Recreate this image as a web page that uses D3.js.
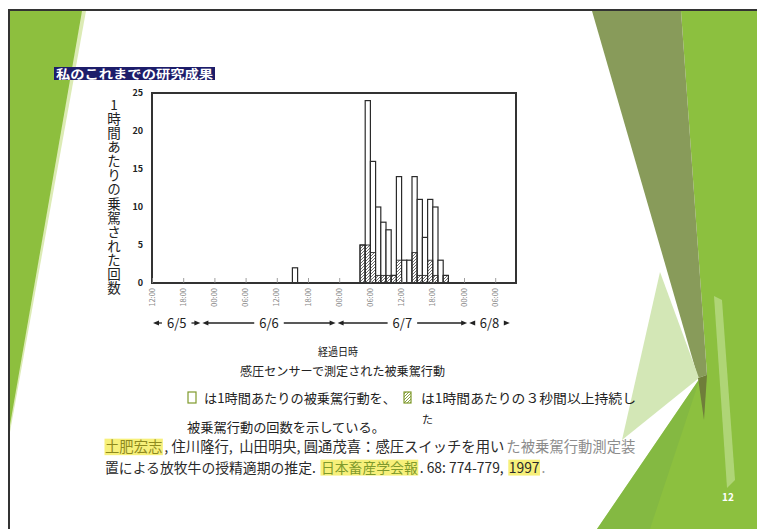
<!DOCTYPE html>
<html>
<head>
<meta charset="utf-8">
<script src="https://cdn.jsdelivr.net/npm/d3@7"></script>
<style>
  body { margin: 0; background: #fff; }
  svg { display: block; }
  text { font-family: "Noto Sans CJK JP", "Noto Sans", sans-serif; }
</style>
</head>
<body>
<svg id="slide" width="757" height="529"></svg>
<script>
// ── Data ─────────────────────────────────────────────────────────────────────
// hours counted from 6/5 12:00
const hours      = [27, 40, 41, 42, 43, 44, 45, 46, 47, 48, 49, 50, 51, 52, 53, 54, 55, 56];
const perHour    = [ 2,  5, 24, 16, 10,  8,  7,  1, 14,  3,  3, 14, 11,  6, 11, 10,  3,  1];
const sustained  = [ 0,  5,  5,  4,  1,  1,  1,  1,  3,  0,  0,  4,  1,  1,  3,  1,  0,  1];
const tickHours  = [0, 6, 12, 18, 24, 30, 36, 42, 48, 54, 60, 66];
const tickLabels = ["12:00", "18:00", "00:00", "06:00", "12:00", "18:00",
                    "00:00", "06:00", "12:00", "18:00", "00:00", "06:00"];
const yTicks     = [0, 5, 10, 15, 20, 25];
const days       = ["6/5", "6/6", "6/7", "6/8"];
const dayBounds  = [0, 9.5, 35.5, 60.8, 69];

const svg = d3.select("#slide");

// ── Slide background decoration ──────────────────────────────────────────────
const deco = svg.append("g");
const poly = (pts, fill, op = 1) =>
  deco.append("polygon").attr("points", pts.map(p => p.join(",")).join(" "))
    .attr("fill", fill).attr("opacity", op);

poly([[10, 11], [86, 11], [10, 432]], "#dcebb5");
poly([[10, 11], [82, 11], [10, 425]], "#8dbf3e");
poly([[681, 11], [757, 11], [757, 529], [597, 529], [700, 378], [707, 375]], "#8cc03f");
poly([[592, 11], [681, 11], [707, 375], [698, 378]], "#889b5a");
poly([[660, 272], [699, 378], [622, 440]], "#d3e7b6");
poly([[698, 378], [707, 375], [704, 420]], "#6f7d3a");
poly([[714, 296], [722, 300], [735, 480], [727, 488]], "#b8da85", 0.8);
poly([[597, 529], [700, 378], [650, 529]], "#7fb444", 0.6);

deco.append("path").attr("d", "M9,529 V10 H757")
  .attr("fill", "none").attr("stroke", "#333").attr("stroke-width", 2);

deco.append("text").attr("x", 722).attr("y", 501).attr("fill", "#fff")
  .attr("font-size", 10).attr("font-weight", "bold").text("12");

// ── Title badge ──────────────────────────────────────────────────────────────
svg.append("rect").attr("x", 54).attr("y", 67).attr("width", 161).attr("height", 13)
  .attr("fill", "#1d1d6a");
svg.append("text").attr("x", 56).attr("y", 78.5).attr("fill", "#fff")
  .attr("font-size", 12).attr("font-weight", "bold")
  .attr("textLength", 157).attr("lengthAdjust", "spacingAndGlyphs")
  .text("私のこれまでの研究成果");

// ── Chart ────────────────────────────────────────────────────────────────────
const x = d3.scaleLinear().domain([0, 70]).range([152, 516]);
const y = d3.scaleLinear().domain([0, 25]).range([283, 93]);

const defs = svg.append("defs");
defs.append("pattern").attr("id", "hatch").attr("patternUnits", "userSpaceOnUse")
  .attr("width", 3).attr("height", 3)
  .append("path").attr("d", "M-1,1 L1,-1 M0,3 L3,0 M2,4 L4,2")
  .attr("stroke", "#333").attr("stroke-width", 0.7);
defs.append("pattern").attr("id", "hatchG").attr("patternUnits", "userSpaceOnUse")
  .attr("width", 3).attr("height", 3)
  .append("path").attr("d", "M-1,1 L1,-1 M0,3 L3,0 M2,4 L4,2")
  .attr("stroke", "#7f9a2c").attr("stroke-width", 0.9);

const chart = svg.append("g");
const bw = x(1) - x(0);

chart.selectAll("rect.total").data(hours).join("rect").attr("class", "total")
  .attr("x", d => x(d)).attr("width", bw)
  .attr("y", (d, i) => y(perHour[i])).attr("height", (d, i) => y(0) - y(perHour[i]))
  .attr("fill", "#fff").attr("stroke", "#2b2b2b").attr("stroke-width", 1.2);

chart.selectAll("rect.sus").data(hours.filter((d, i) => sustained[i] > 0)).join("rect")
  .attr("class", "sus")
  .attr("x", d => x(d)).attr("width", bw)
  .attr("y", d => y(sustained[hours.indexOf(d)]))
  .attr("height", d => y(0) - y(sustained[hours.indexOf(d)]))
  .attr("fill", "url(#hatch)").attr("stroke", "#2b2b2b").attr("stroke-width", 0.9);

// frame
chart.append("rect").attr("x", x(0)).attr("y", y(25))
  .attr("width", x(70) - x(0)).attr("height", y(0) - y(25))
  .attr("fill", "none").attr("stroke", "#333").attr("stroke-width", 2);

// inner ticks on the baseline
chart.append("g").attr("transform", `translate(0,${y(0)})`)
  .call(d3.axisBottom(x).tickValues(tickHours).tickSizeInner(-5).tickSizeOuter(0).tickFormat(""))
  .call(g => g.select(".domain").remove())
  .call(g => g.selectAll("line").attr("stroke", "#888").attr("stroke-width", 0.8));

// rotated time labels
chart.append("g").selectAll("text").data(tickHours).join("text")
  .attr("transform", d => `translate(${x(d)},288) rotate(-90)`)
  .attr("text-anchor", "end").attr("dy", "0.35em")
  .attr("font-family", "DejaVu Sans Condensed, DejaVu Sans")
  .attr("font-size", 7.5).attr("fill", "#888")
  .text((d, i) => tickLabels[i]);

// y axis labels
chart.append("g").attr("transform", "translate(146,0)")
  .call(d3.axisLeft(y).tickValues(yTicks).tickSize(0))
  .call(g => g.select(".domain").remove())
  .call(g => g.selectAll("text")
    .attr("font-family", "DejaVu Sans Condensed, DejaVu Sans")
    .attr("font-weight", "bold").attr("font-size", 9).attr("fill", "#222"));

// vertical y title, one text element set in vertical writing mode
chart.append("text")
  .attr("x", 114).attr("y", 98)
  .style("writing-mode", "vertical-rl")
  .style("text-orientation", "upright")
  .style("letter-spacing", "0.6px")
  .attr("font-size", 13.5).attr("fill", "#222")
  .text("1時間あたりの乗駕された回数");

// day ranges with arrows
const arrow = (g, x1, x2, yy) => {
  const dir = Math.sign(x2 - x1);
  g.append("line").attr("x1", x1).attr("x2", x2 - dir * 4).attr("y1", yy).attr("y2", yy)
    .attr("stroke", "#222").attr("stroke-width", 1.3);
  g.append("path").attr("d", `M${x2},${yy} L${x2 - dir * 6},${yy - 2.5} L${x2 - dir * 6},${yy + 2.5}Z`)
    .attr("fill", "#222");
};
const dayG = chart.append("g");
days.forEach((d, i) => {
  const a = x(dayBounds[i]), b = x(dayBounds[i + 1]), c = (a + b) / 2;
  const t = dayG.append("text").attr("x", c).attr("y", 328).attr("text-anchor", "middle")
    .attr("font-family", "DejaVu Sans Condensed, DejaVu Sans")
    .attr("font-size", 13).attr("fill", "#222").text(d);
  const w = t.node().getComputedTextLength();
  arrow(dayG, c - w / 2 - 5, a + 1, 323);
  arrow(dayG, c + w / 2 + 5, b - 1, 323);
});

// ── Captions ────────────────────────────────────────────────────────────────
const cap = svg.append("g").attr("fill", "#222");
cap.append("text").attr("x", 318).attr("y", 356).attr("font-size", 11.5)
  .attr("textLength", 40).attr("lengthAdjust", "spacingAndGlyphs").text("経過日時");
cap.append("text").attr("x", 240).attr("y", 376).attr("font-size", 12.5)
  .attr("textLength", 205).attr("lengthAdjust", "spacingAndGlyphs")
  .text("感圧センサーで測定された被乗駕行動");

cap.append("rect").attr("x", 188).attr("y", 392).attr("width", 8).attr("height", 11)
  .attr("fill", "#fff").attr("stroke", "#7f9a2c").attr("stroke-width", 1.2);
cap.append("rect").attr("x", 404).attr("y", 392).attr("width", 7).attr("height", 11)
  .attr("fill", "url(#hatchG)").attr("stroke", "#7f9a2c").attr("stroke-width", 1.2);
cap.append("text").attr("x", 204).attr("y", 403).attr("font-size", 13)
  .attr("textLength", 192).attr("lengthAdjust", "spacingAndGlyphs")
  .text("は1時間あたりの被乗駕行動を、");
cap.append("text").attr("x", 421).attr("y", 403).attr("font-size", 13)
  .attr("textLength", 215).attr("lengthAdjust", "spacingAndGlyphs")
  .text("は1時間あたりの３秒間以上持続し");
cap.append("text").attr("x", 422).attr("y", 424).attr("font-size", 11).text("た");
cap.append("text").attr("x", 187).attr("y", 431.5).attr("font-size", 13)
  .attr("textLength", 198).attr("lengthAdjust", "spacingAndGlyphs")
  .text("被乗駕行動の回数を示している。");

// ── Reference: one text per line, tspans for coloured / highlighted runs ─────
const GAP = 2;
const hlLayer = svg.append("g"), refLayer = svg.append("g");
function runLine(x0, yy, width, segs) {
  const t = refLayer.append("text").attr("x", x0).attr("y", yy)
    .attr("xml:space", "preserve").attr("font-size", 14);
  const spans = segs.map((s, i) => t.append("tspan")
    .attr("dx", i ? GAP : 0)
    .attr("fill", s.fill || "#2a2a2a").text(s.t));
  const natural = d3.sum(spans, sp => sp.node().getComputedTextLength());
  const size = 14 * (width - GAP * (segs.length - 1)) / natural;
  t.attr("font-size", size);
  let cx = x0;
  spans.forEach((sp, i) => {
    if (i) cx += GAP;
    const w = sp.node().getComputedTextLength();
    if (segs[i].hl) {
      hlLayer.append("rect").attr("x", cx - 0.5).attr("y", yy - size * 0.95)
        .attr("width", w + 1).attr("height", size * 1.15).attr("fill", "#f7f07a");
    }
    cx += w;
  });
}
runLine(105, 452.3, 531, [
  { t: "土肥宏志", fill: "#8f8a1e", hl: true },
  { t: ", 住川隆行,  山田明央, 圓通茂喜：感圧スイッチを用い" },
  { t: "た被乗駕行動測定装", fill: "#8c8c8c" }
]);
runLine(105, 472.8, 441, [
  { t: "置による放牧牛の授精適期の推定. " },
  { t: "日本畜産学会報", fill: "#7f9a2c", hl: true },
  { t: ". 68: 774-779, " },
  { t: "1997", hl: true },
  { t: ".", fill: "#999" }
]);
</script>
</body>
</html>
